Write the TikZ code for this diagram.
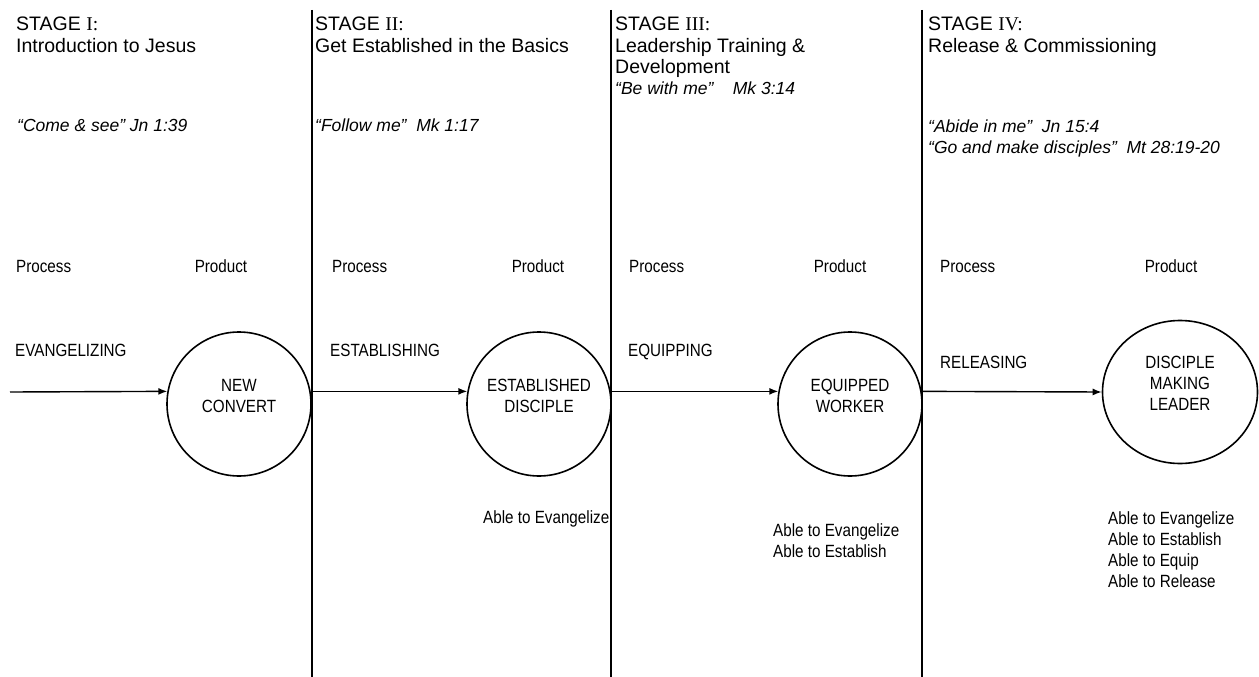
\documentclass[tikz,border=0pt]{standalone}
\usepackage{fontspec}
\setmainfont{Liberation Sans}
\newfontfamily\numfont{Liberation Serif}
\newfontfamily\bodyfont[FakeStretch=0.86]{Liberation Sans}
\usepackage{tikz}
\usetikzlibrary{arrows.meta,shapes.geometric}

\tikzset{
  stagehead/.style={anchor=base west,align=left,inner sep=0pt,font=\fontsize{19.5}{21.7}\selectfont},
  scripture/.style={anchor=base west,align=left,inner sep=0pt,font=\fontsize{17.5}{20.5}\selectfont\itshape},
  small/.style={anchor=base west,align=left,inner sep=0pt,font=\bodyfont\fontsize{17.7}{20.8}\selectfont},
  prodcirc/.style={draw,circle,line width=1.6pt,minimum size=144pt,inner sep=0pt},
  circlbl/.style={align=center,yshift=8pt,inner sep=0pt,font=\bodyfont\fontsize{17.7}{21}\selectfont},
  divider/.style={line width=1.6pt},
  flow/.style={line width=1.4pt,-{Latex[length=9pt,width=7pt]}}
}

\begin{document}
\begin{tikzpicture}[x=1pt,y=-1pt]
\useasboundingbox (0,0) rectangle (1259,677);

% headings: base anchor sits on the last line
\node[stagehead] (st1) at (16,52.3) {STAGE {\numfont I:}\\Introduction to Jesus};
\node[stagehead] (st2) at (315,52.3) {STAGE {\numfont II:}\\Get Established in the Basics};
\node[stagehead] (st3) at (615,74) {STAGE {\numfont III:}\\Leadership Training \&\\Development};
\node[stagehead] (st4) at (928,52.3) {STAGE {\numfont IV:}\\Release \& Commissioning};

\node[scripture] (sc1) at (17,131) {``Come \& see'' Jn 1:39};
\node[scripture] (sc2) at (315,131) {``Follow me''\ \ Mk 1:17};
\node[scripture] (sc3) at (615,95) {``Be with me''\ \ \ \ Mk 3:14};
\node[scripture] (sc4) at (928,153) {``Abide in me''\ \ Jn 15:4\\``Go and make disciples''\ \ Mt 28:19-20};

\node[small] (proc1) at (16,272) {Process};
\node[small] (proc2) at (332,272) {Process};
\node[small] (proc3) at (629,272) {Process};
\node[small] (proc4) at (940,272) {Process};
\node[small,anchor=base] (prod1) at (221,272) {Product};
\node[small,anchor=base] (prod2) at (538,272) {Product};
\node[small,anchor=base] (prod3) at (840,272) {Product};
\node[small,anchor=base] (prod4) at (1171,272) {Product};

\node[small] (act1) at (15,356) {EVANGELIZING};
\node[small] (act2) at (330,356) {ESTABLISHING};
\node[small] (act3) at (628,356) {EQUIPPING};
\node[small] (act4) at (940,368) {RELEASING};

\coordinate (d1top) at (312,10);
\coordinate (d1bot) at (312,677);
\coordinate (d2top) at (611,10);
\coordinate (d2bot) at (611,677);
\coordinate (d3top) at (922,10);
\coordinate (d3bot) at (922,677);
\draw[divider] (d1top) -- (d1bot);
\draw[divider] (d2top) -- (d2bot);
\draw[divider] (d3top) -- (d3bot);

\node[prodcirc,label={[circlbl]center:NEW\\CONVERT}] (conv) at (239,404) {};
\node[prodcirc,label={[circlbl]center:ESTABLISHED\\DISCIPLE}] (estd) at (539,404) {};
\node[prodcirc,label={[circlbl]center:EQUIPPED\\WORKER}] (equip) at (850,404) {};
\node[prodcirc,ellipse,minimum width=155pt,minimum height=143pt,
  label={[circlbl,yshift=1pt]center:DISCIPLE\\MAKING\\LEADER}] (lead) at (1180,392) {};

\coordinate (start) at (10,392);
\draw[flow] (start) -- (conv.170);
\draw[flow] (conv.170 -| d1top) -- (estd.170);
\draw[flow] (estd.170 -| d2top) -- (equip.170);
\draw[flow] (equip.170 -| d3top) -- (lead.west);

\node[small] (able2) at (483,523) {Able to Evangelize};
\node[small] (able3) at (773,557) {Able to Evangelize\\Able to Establish};
\node[small] (able4) at (1108,587) {Able to Evangelize\\Able to Establish\\Able to Equip\\Able to Release};

\end{tikzpicture}
\end{document}
